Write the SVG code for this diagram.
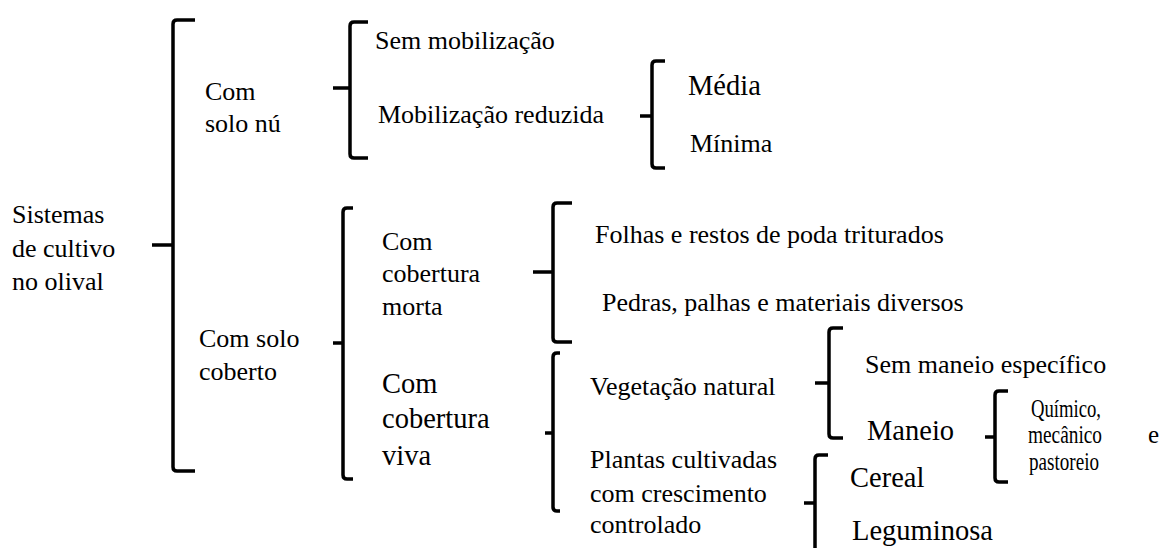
<svg xmlns="http://www.w3.org/2000/svg" width="1160" height="548" viewBox="0 0 1160 548">
<style>
.br{fill:none;stroke:#000;stroke-width:3.5;stroke-linejoin:round}
.t text{font-size:26px}
.t .l{font-size:28.5px}
.t .q{font-size:25px}
</style>
<rect width="1160" height="548" fill="#fff"/>
<g id="connectors">
<path class="br" d="M195,20 L177,20 Q173,20 173,24 L173,467 Q173,471 177,471 L195,471 M152,245 L173,245"/>
<path class="br" d="M368,22 L354,22 Q350,22 350,26 L350,154 Q350,158 354,158 L368,158 M333,88 L350,88"/>
<path class="br" d="M665,61 L656,61 Q652,61 652,65 L652,164 Q652,168 656,168 L665,168 M640,116 L652,116"/>
<path class="br" d="M353,208 L347,208 Q343,208 343,212 L343,475 Q343,479 347,479 L353,479 M333,343 L343,343"/>
<path class="br" d="M572,203 L557,203 Q553,203 553,207 L553,338 Q553,342 557,342 L572,342 M533,272 L553,272"/>
<path class="br" d="M560,353 L557,353 Q553,353 553,357 L553,507 Q553,511 557,511 L560,511 M545,433 L553,433"/>
<path class="br" d="M843,328 L833,328 Q829,328 829,332 L829,434 Q829,438 833,438 L843,438 M815,383 L829,383"/>
<path class="br" d="M828,455 L819,455 Q815,455 815,459 L815,560 M804,503 L815,503"/>
<path class="br" d="M1008,391 L999,391 Q995,391 995,395 L995,478 Q995,482 999,482 L1008,482 M985,437 L995,437"/>
</g>
<g class="t" font-family="'Liberation Serif', 'Times New Roman', serif" fill="#000">
<g id="n-root"><text x="12" y="223">Sistemas</text><text x="12" y="257">de cultivo</text><text x="12" y="290">no olival</text></g>
<g id="n-nu"><text x="205" y="100">Com</text><text x="205" y="132">solo nú</text></g>
<g id="n-coberto"><text x="199" y="347">Com solo</text><text x="199" y="380">coberto</text></g>
<g id="n-semmob"><text x="375" y="49">Sem mobilização</text></g>
<g id="n-mobred"><text x="378" y="123">Mobilização reduzida</text></g>
<g id="n-media"><text class="l" x="688" y="95">Média</text></g>
<g id="n-minima"><text x="690" y="152">Mínima</text></g>
<g id="n-morta"><text x="382" y="250">Com</text><text x="382" y="282">cobertura</text><text x="382" y="315">morta</text></g>
<g id="n-folhas"><text x="595" y="243">Folhas e restos de poda triturados</text></g>
<g id="n-pedras"><text x="602" y="311">Pedras, palhas e materiais diversos</text></g>
<g id="n-viva"><text class="l" x="382" y="393">Com</text><text class="l" x="382" y="428">cobertura</text><text class="l" x="382" y="465">viva</text></g>
<g id="n-veg"><text x="590" y="395">Vegetação natural</text></g>
<g id="n-plantas"><text x="590" y="468">Plantas cultivadas</text><text x="590" y="502">com crescimento</text><text x="590" y="533">controlado</text></g>
<g id="n-semmaneio"><text x="865" y="373">Sem maneio específico</text></g>
<g id="n-maneio"><text class="l" x="867" y="440">Maneio</text></g>
<g id="n-quimico"><text class="q" x="1031" y="417" textLength="70" lengthAdjust="spacingAndGlyphs">Químico,</text><text class="q" x="1028" y="443"><tspan textLength="74" lengthAdjust="spacingAndGlyphs">mecânico</tspan><tspan x="1148">e</tspan></text><text class="q" x="1029" y="470" textLength="70" lengthAdjust="spacingAndGlyphs">pastoreio</text></g>
<g id="n-cereal"><text class="l" x="850" y="487">Cereal</text></g>
<g id="n-legum"><text class="l" x="852" y="540">Leguminosa</text></g>
</g>
</svg>
